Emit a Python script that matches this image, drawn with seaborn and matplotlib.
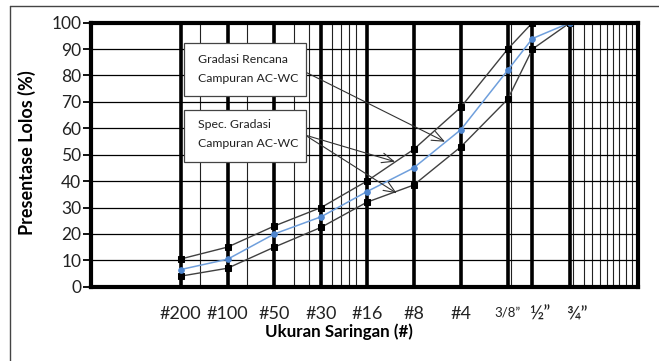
import matplotlib
matplotlib.use('Agg')
import matplotlib.pyplot as plt
import matplotlib.transforms as mtransforms
from matplotlib.lines import Line2D
from matplotlib.patches import Rectangle
from matplotlib.ticker import NullLocator
import seaborn as sns

# ---- data ----
sieve_labels = ['#200', '#100', '#50', '#30', '#16', '#8', '#4', '3/8”', '½”', '¾”']
sieve_size = [0.075, 0.15, 0.3, 0.6, 1.18, 2.36, 4.75, 9.5, 13.7, 23.9]
design = [6.5, 10.4, 20, 26.5, 36, 45, 59.5, 82, 94, 100]
spec_upper = [10.5, 15, 23, 30, 40, 52, 68, 90, 100, 100]
spec_lower = [4, 7, 15, 22.5, 32, 38.5, 53, 71, 90, 100]
y_ticks = list(range(0, 101, 10))
box1_lines = ['Gradasi Rencana', 'Campuran AC-WC']
box2_lines = ['Spec. Gradasi', 'Campuran AC-WC']

sns.set_theme(style='white')
plt.rcParams['font.family'] = ['Lato', 'DejaVu Sans']

W, H = 659, 361
fig = plt.figure(figsize=(W / 100, H / 100), dpi=100)
fig.patch.set_facecolor('white')
L, R, T, B = 91, 638.3, 22.7, 286.7
ax = fig.add_axes([L / W, 1 - B / H, (R - L) / W, (B - T) / H])
ax.set_xscale('log')
ax.set_xlim(0.01986, 65.7)
ax.set_ylim(0, 100)

# grid lines
minor_x = [0.1, 0.2, 0.4, 0.5, 0.7, 0.8, 0.9, 1.0, 10, 25.1, 29.4, 33.3,
           37.3, 41.2, 45.4, 49.4, 54.5, 59.6]
for xv in minor_x:
    ax.axvline(xv, color='#222222', lw=0.8, zorder=1)
for yv in y_ticks[1:-1]:
    ax.axhline(yv, color='black', lw=0.9, zorder=1)
for xv in sieve_size:
    ax.axvline(xv, color='black', lw=2.6, zorder=1.5)

# series
sns.lineplot(x=sieve_size, y=spec_upper, ax=ax, color='#404040', lw=1,
             marker='s', markersize=4.2, markerfacecolor='black',
             markeredgecolor='black', zorder=3)
sns.lineplot(x=sieve_size, y=spec_lower, ax=ax, color='#404040', lw=1,
             marker='s', markersize=4.2, markerfacecolor='black',
             markeredgecolor='black', zorder=3)
sns.lineplot(x=sieve_size, y=design, ax=ax, color='#6f9fdc', lw=1.1,
             marker='o', markersize=4, markerfacecolor='#4f86cf',
             markeredgecolor='#4f86cf', zorder=4)

# spines
for s in ax.spines.values():
    s.set_visible(True)
    s.set_linewidth(3)
    s.set_color('black')
    s.set_zorder(6)

# ticks
ax.set_yticks(y_ticks)
ax.set_yticklabels([str(v) for v in y_ticks])
ax.tick_params(axis='y', left=True, direction='out', length=6, width=1.3,
               color='black', pad=1, labelsize=12.5, labelcolor='#222222')
ax.set_xticks(sieve_size)
ax.set_xticklabels(sieve_labels)
ax.xaxis.set_minor_locator(NullLocator())
ax.tick_params(axis='x', bottom=False, length=0, pad=14, labelsize=13,
               labelcolor='#222222')
for lbl in ax.get_xticklabels():
    t = lbl.get_text()
    if t == '3/8”':
        lbl.set_fontsize(9.5)
    if t in ('½”', '¾”'):
        lbl.set_fontsize(14)
        lbl.set_transform(lbl.get_transform() +
                          mtransforms.ScaledTranslation(7 / 100, 0, fig.dpi_scale_trans))

ax.set_ylabel('Presentase Lolos (%)', fontweight='bold', fontsize=13, color='black')
ax.yaxis.set_label_coords(-0.100, 0.506)
ax.set_xlabel('Ukuran Saringan (#)', fontweight='bold', fontsize=12.2, color='black')
ax.xaxis.set_label_coords(0.453, -0.14)

# annotation boxes
for (y0, hgt, lines, ys) in [(0.722, 0.200, box1_lines, (0.859, 0.789)),
                             (0.473, 0.196, box2_lines, (0.6125, 0.543))]:
    ax.add_patch(Rectangle((0.170, y0), 0.222, hgt, transform=ax.transAxes,
                           facecolor='white', edgecolor='#444444', lw=0.9,
                           zorder=7, clip_on=False))
    for txt, yy in zip(lines, ys):
        ax.text(0.1955, yy, txt, transform=ax.transAxes, ha='left',
                va='center', fontsize=8.8, color='#222222', zorder=8)

arrows = [((0.391, 0.814), (0.6468, 0.549)),
          ((0.391, 0.5746), (0.5555, 0.4735)),
          ((0.391, 0.5746), (0.5586, 0.3538))]
for start, tip in arrows:
    ax.annotate('', xy=tip, xytext=start, xycoords='axes fraction',
                textcoords='axes fraction',
                arrowprops=dict(arrowstyle='->,head_length=0.6,head_width=0.25',
                                color='#333333', lw=0.8, shrinkA=0, shrinkB=0,
                                mutation_scale=14),
                zorder=5)

# outer chart border
fig.add_artist(Line2D([10 / W, 10 / W], [0, 1 - 6 / H], transform=fig.transFigure,
                      color='#444444', lw=1))
fig.add_artist(Line2D([10 / W, 1], [1 - 6 / H, 1 - 6 / H], transform=fig.transFigure,
                      color='#444444', lw=1))

fig.savefig('out.png', dpi=100)
